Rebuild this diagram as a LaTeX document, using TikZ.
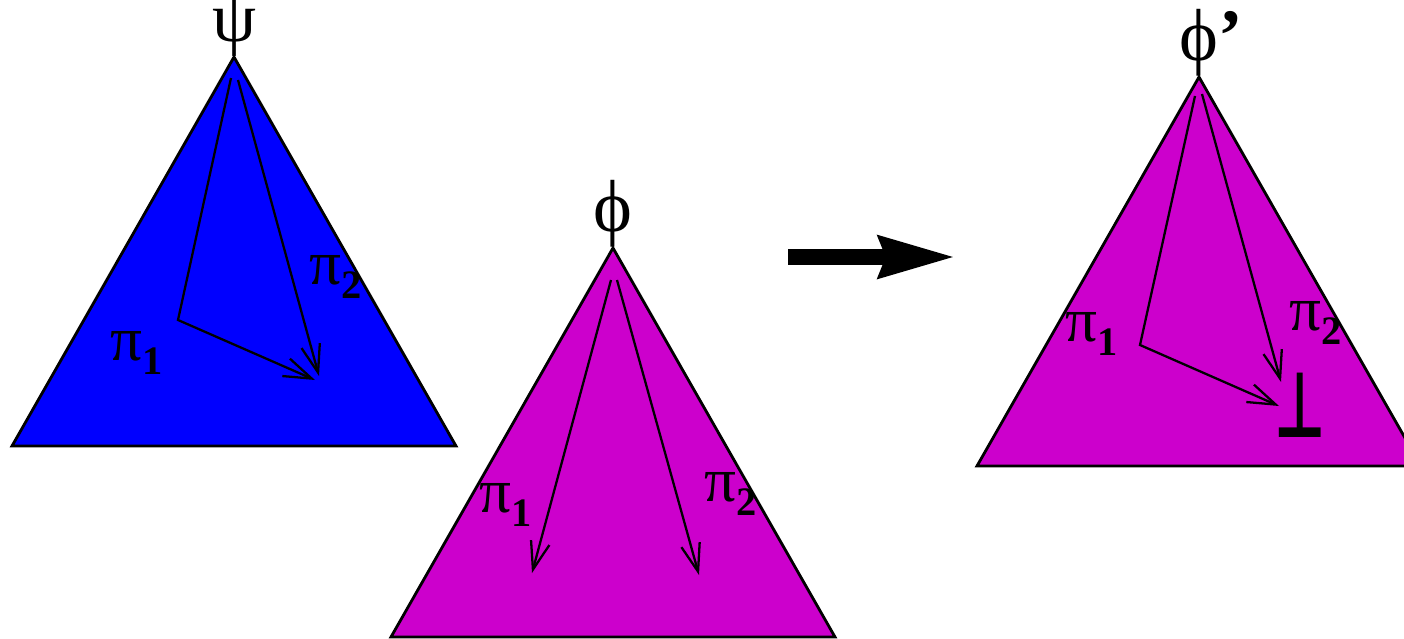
\documentclass[tikz,border=0pt]{standalone}
\usepackage{fontspec}
\setmainfont{Liberation Serif}
\newfontfamily\symfont{DejaVu Sans}
\usetikzlibrary{arrows.meta}
\definecolor{figblue}{RGB}{0,0,255}
\definecolor{figmag}{RGB}{204,0,204}
\tikzset{
  tri/.style={draw=black, line width=1.6pt, line join=miter},
  ptr/.style={line width=1.3pt,
    -{Straight Barb[length=0.56cm, width=0.38cm, line width=1.3pt]}},
  glab/.style={inner sep=0pt, font=\fontsize{36}{36}\selectfont},
  toplab/.style={inner sep=0pt, anchor=south, font=\fontsize{42}{42}\selectfont},
}
% pi with a bold subscript, as in the old figure
\newcommand{\pisub}[1]{π\raisebox{-8pt}{\fontsize{23}{23}\selectfont\bfseries #1}}
% triangle hanging from its apex #2,#3 (pixel units)
\newcommand{\ftri}[4]{%
  \coordinate (#1) at (#2,#3);
  \filldraw[tri, fill=#4] (#1) -- ++(-222,389) -- ++(444,0) -- cycle;
}

\begin{document}
\begin{tikzpicture}[x=0.02cm, y=-0.02cm]
  \useasboundingbox (0,0) rectangle (1404,639);

  % left tree: psi
  \ftri{apexA}{234}{57}{figblue}
  \node[toplab, font=\fontsize{40}{40}\selectfont] (psi) at (apexA) {ψ};
  \coordinate (a1) at (231,78);
  \coordinate (a2) at (238,80);
  \coordinate (acorner) at (178,320);
  \coordinate (atip1) at (315,380);
  \coordinate (atip2) at (319,376);
  \draw[ptr] (a1) -- (acorner) -- (atip1);
  \draw[ptr] (a2) -- (atip2);
  \node[glab] (pA1) at (137,353) {\pisub{1}};
  \node[glab] (pA2) at (336,277) {\pisub{2}};

  % middle tree: phi
  \ftri{apexB}{613}{248}{figmag}
  \node[toplab] (phi) at (apexB) {ϕ};
  \coordinate (b1) at (611,280);
  \coordinate (b2) at (617,280);
  \coordinate (btip1) at (532,573);
  \coordinate (btip2) at (699,575);
  \draw[ptr] (b1) -- (btip1);
  \draw[ptr] (b2) -- (btip2);
  \node[glab] (pB1) at (506,505) {\pisub{1}};
  \node[glab] (pB2) at (731,494) {\pisub{2}};

  % rewrite step
  \coordinate (go) at (788,257);
  \coordinate (gone) at (956,257);
  \draw[line width=0.32cm, -{Stealth[length=1.52cm, width=0.8cm, inset=0.12cm]}] (go) -- (gone);

  % right tree: phi'
  \ftri{apexC}{1199}{77}{figmag}
  \node[toplab] (phiprime) at (apexC) {ϕ\rlap{\bfseries’}};
  \coordinate (c1) at (1195,96);
  \coordinate (c2) at (1202,94);
  \coordinate (ccorner) at (1140,345);
  \coordinate (ctip1) at (1279,406);
  \coordinate (ctip2) at (1281,382);
  \draw[ptr] (c1) -- (ccorner) -- (ctip1);
  \draw[ptr] (c2) -- (ctip2);
  \node[glab] (pC1) at (1092,334) {\pisub{1}};
  \node[glab] (pC2) at (1316,323) {\pisub{2}};
  \node[inner sep=0pt, font=\symfont\bfseries\fontsize{40}{40}\selectfont] (bot) at (1300,405) {\scalebox{0.8}[1.3]{⊥}};
\end{tikzpicture}
\end{document}
